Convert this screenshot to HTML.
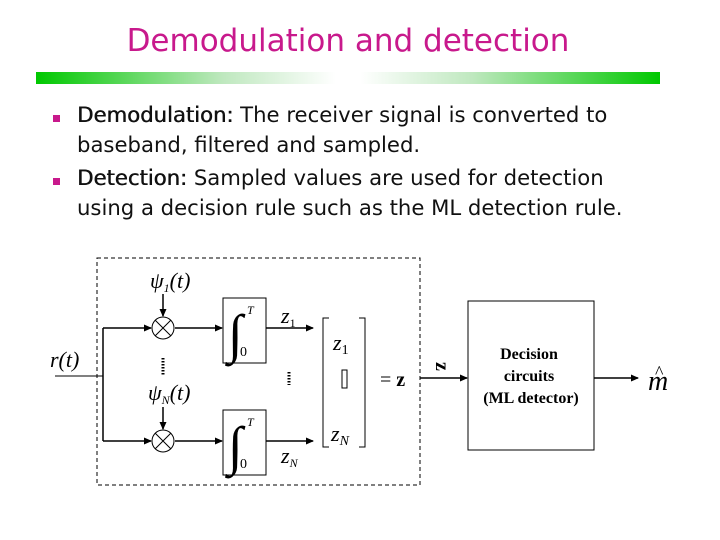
<!DOCTYPE html>
<html><head><meta charset="utf-8"><style>
body{margin:0;width:720px;height:540px;background:#fff;overflow:hidden;position:relative;font-family:"Liberation Sans","DejaVu Sans",sans-serif}
.t{position:absolute;left:0;width:696px;text-align:center;top:23px;font-size:31px;color:#c8198c;font-family:"DejaVu Sans","Liberation Sans",sans-serif}
.bar{position:absolute;left:36px;top:72px;width:624px;height:12px;background:linear-gradient(90deg,#00c800,#bfe8bf 30%,#fff 48%,#fff 52%,#bfe8bf 70%,#00c800)}
.b{position:absolute;left:77px;font-size:21.2px;color:#111;font-family:"DejaVu Sans","Liberation Sans",sans-serif;line-height:30px;white-space:nowrap}
.b b{font-weight:normal;text-shadow:0.5px 0 0 #111}
.sq{position:absolute;left:53px;width:7px;height:7px;background:#c8198c}
</style></head><body>
<div class="t">Demodulation and detection</div>
<div class="bar"></div>
<div class="sq" style="top:115px"></div>
<div class="sq" style="top:178px"></div>
<div class="b" style="top:100px"><b>Demodulation:</b> The receiver signal is converted to<br>baseband, filtered and sampled.</div>
<div class="b" style="top:163px"><b>Detection:</b> Sampled values are used for detection<br>using a decision rule such as the ML detection rule.</div>
<svg width="720" height="540" style="position:absolute;left:0;top:0" font-family="Liberation Serif,serif">
<defs><marker id="a" markerWidth="8" markerHeight="8" refX="7" refY="4" orient="auto" markerUnits="userSpaceOnUse"><path d="M0,0.5L8,4L0,7.5z" fill="#000"/></marker></defs>
<rect x="97" y="258" width="323" height="227" fill="none" stroke="#000" stroke-dasharray="4,3"/>
<g stroke="#000" stroke-width="1.5" fill="none">
<line x1="55" y1="376" x2="103" y2="376" stroke-width="1"/>
<line x1="103" y1="328" x2="103" y2="441"/>
<line x1="103" y1="328" x2="151" y2="328" marker-end="url(#a)"/>
<line x1="103" y1="441" x2="151" y2="441" marker-end="url(#a)"/>
<line x1="163" y1="294" x2="163" y2="316" marker-end="url(#a)"/>
<line x1="163" y1="407" x2="163" y2="429" marker-end="url(#a)"/>
<line x1="175" y1="328" x2="222" y2="328" marker-end="url(#a)"/>
<line x1="175" y1="441" x2="222" y2="441" marker-end="url(#a)"/>
<line x1="266" y1="328" x2="313" y2="328" marker-end="url(#a)"/>
<line x1="266" y1="441" x2="313" y2="441" marker-end="url(#a)"/>
<line x1="420" y1="378" x2="467" y2="378" marker-end="url(#a)"/>
<line x1="594" y1="378" x2="638" y2="378" marker-end="url(#a)"/>
</g>
<g stroke="#000" fill="#fff" stroke-width="1">
<circle cx="163" cy="328" r="11"/><path d="M155,320L171,336M171,320L155,336"/>
<circle cx="163" cy="441" r="11"/><path d="M155,433L171,449M171,433L155,449"/>
<rect x="223" y="298" width="43" height="65"/>
<rect x="223" y="410" width="43" height="65"/>
<rect x="468" y="301" width="126" height="149"/>
<path d="M329,318H323V447H329M359,318H365V447H359" fill="none"/>
<rect x="342" y="370" width="5" height="18"/>
</g>
<g stroke="#000" stroke-width="3" stroke-dasharray="1.5,1.5">
<line x1="163" y1="358" x2="163" y2="375"/><line x1="289" y1="372" x2="289" y2="385"/>
</g>
<g font-size="22" font-style="italic">
<text x="50" y="367">r(t)</text>
<text x="150" y="288">ψ<tspan font-size="12" dy="4">1</tspan><tspan dy="-4">(t)</tspan></text>
<text x="148" y="400">ψ<tspan font-size="12" dy="4">N</tspan><tspan dy="-4">(t)</tspan></text>
<text x="281" y="323">z<tspan font-size="12" dy="4" font-style="normal">1</tspan></text>
<text x="281" y="463">z<tspan font-size="12" dy="4">N</tspan></text>
<text x="333" y="350">z<tspan font-size="14" dy="4" font-style="normal">1</tspan></text>
<text x="331" y="441">z<tspan font-size="14" dy="4">N</tspan></text>
<text x="648" y="390" font-size="28">m</text>
</g>
<text x="655" y="378" font-size="18">^</text>
<g font-size="54"><text x="228" y="352">∫</text><text x="228" y="464">∫</text></g>
<g font-size="12" font-style="italic"><text x="247" y="314">T</text><text x="247" y="426">T</text></g>
<g font-size="14"><text x="240" y="356">0</text><text x="240" y="468">0</text></g>
<text x="380" y="386" font-size="20">= <tspan font-weight="bold">z</tspan></text>
<text x="0" y="0" font-size="20" font-weight="bold" transform="translate(436,362) rotate(90)">z</text>
<g font-size="16" font-weight="bold" text-anchor="middle"><text x="529" y="359">Decision</text><text x="529" y="381">circuits</text><text x="531" y="403">(ML detector)</text></g>
</svg>
</body></html>
